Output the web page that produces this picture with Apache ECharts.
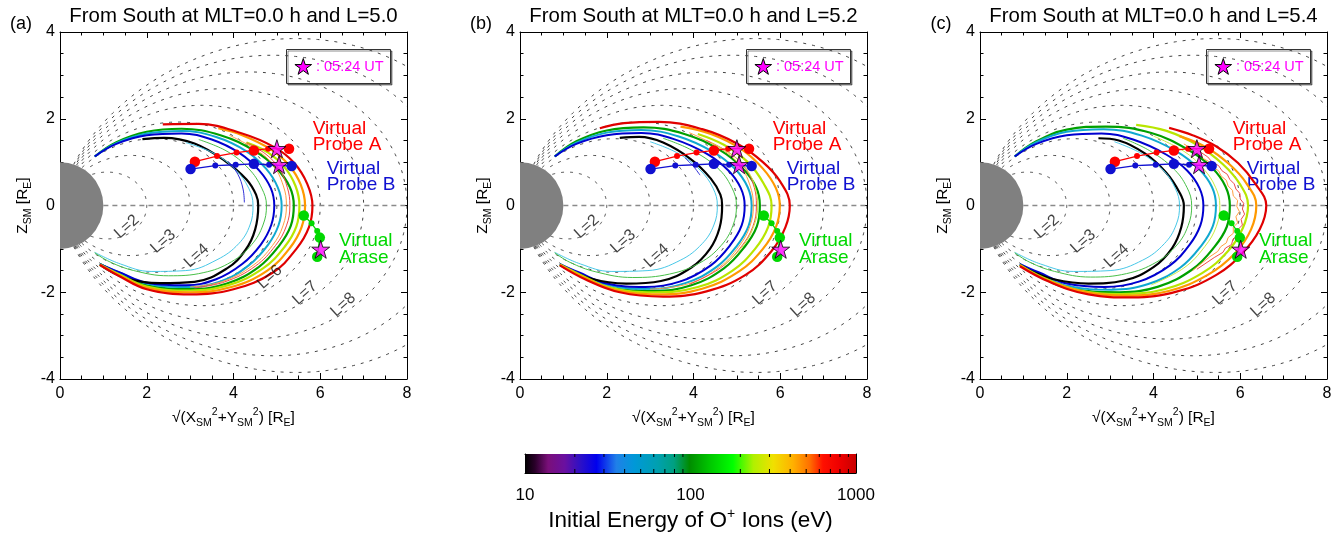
<!DOCTYPE html>
<html><head><meta charset="utf-8">
<script src="https://cdn.jsdelivr.net/npm/echarts@6/dist/echarts.min.js"></script>
<style>html,body{margin:0;padding:0;background:#fff}#c{width:1338px;height:540px}</style>
</head><body><div id="c"></div>
<script>
// ---------------- DATA ----------------
const PANEL_TAGS = ['(a)', '(b)', '(c)'];
const PANEL_TITLES = ['From South at MLT=0.0 h and L=5.0', 'From South at MLT=0.0 h and L=5.2', 'From South at MLT=0.0 h and L=5.4'];
const L_VALUES = [2, 3, 4, 5, 6, 7, 8, 9, 10];
const EQUATOR = [[1, 0], [8, 0]];
const L_LABELS_A = [[1.54, -0.49, 'L=2'], [2.38, -0.83, 'L=3'], [3.15, -1.16, 'L=4'], [4.84, -1.65, 'L=6'], [5.65, -2.02, 'L=7'], [6.53, -2.29, 'L=8']];
const L_LABELS_BC = [[1.54, -0.49, 'L=2'], [2.38, -0.83, 'L=3'], [3.15, -1.16, 'L=4'], [5.65, -2.02, 'L=7'], [6.53, -2.29, 'L=8']];
const PROBE_A = [[3.11, 1.01], [3.62, 1.14], [4.07, 1.22], [4.47, 1.27], [4.80, 1.31], [5.28, 1.31]];
const PROBE_A_BIG = [1, 0, 0, 1, 0, 1];
const PROBE_B = [[3.01, 0.84], [3.58, 0.92], [4.05, 0.94], [4.47, 0.96], [4.82, 0.94], [5.34, 0.91]];
const PROBE_B_BIG = [1, 0, 0, 1, 0, 1];
const ARASE = [[5.62, -0.23], [5.80, -0.41], [5.93, -0.59], [5.99, -0.74], [5.93, -1.18]];
const ARASE_BIG = [1, 0, 0, 1, 1];
const STARS = [[5.0, 1.31], [5.05, 0.94], [6.01, -1.01]];
const LEGEND_TEXT = ': 05:24 UT';
const PROBE_NAMES = [['Virtual', 'Probe A'], ['Virtual', 'Probe B'], ['Virtual', 'Arase']];
const CBAR_MIN = 10, CBAR_MAX = 1000;
const CBAR_MINOR = [20, 30, 40, 50, 60, 70, 80, 90, 200, 300, 400, 500, 600, 700, 800, 900];
const CBAR_STOPS = [[0, '#000000'], [0.03, '#2a002a'], [0.07, '#7a0f7a'], [0.12, '#6a10a0'], [0.17, '#2a10c8'], [0.216, '#0000ee'], [0.276, '#2080e8'], [0.33, '#0098d8'], [0.40, '#00a0b0'], [0.45, '#00a080'], [0.497, '#008c00'], [0.56, '#00c800'], [0.628, '#00ff00'], [0.69, '#b0f000'], [0.75, '#f0e000'], [0.81, '#ffb000'], [0.86, '#ff7000'], [0.90, '#ff1000'], [0.95, '#ee0000'], [1.0, '#c80000']];

// trajectories, panel (a)
const A_r = [[2.37,1.87],[3.2,1.88],[4.2,1.66],[4.95,1.34],[5.4,0.98],[5.7,0.5],[5.82,0],[5.74,-0.5],[5.45,-1.0],[4.9,-1.55],[4.0,-1.93],[3.0,-2.05],[2.0,-1.93],[1.35,-1.62],[0.92,-1.37]];
const A_o = [[3.65,1.78],[4.2,1.62],[4.85,1.3],[5.28,0.93],[5.55,0.48],[5.65,0],[5.57,-0.5],[5.3,-0.98],[4.78,-1.5],[3.95,-1.88],[3.0,-2.0],[2.0,-1.9],[1.35,-1.6],[0.92,-1.37]];
const A_yg = [[4.3,1.45],[4.8,1.22],[5.18,0.88],[5.43,0.45],[5.52,0],[5.45,-0.48],[5.18,-0.95],[4.68,-1.45],[3.9,-1.83],[3.0,-1.96],[2.0,-1.87],[1.35,-1.58],[0.92,-1.36]];
const A_g = [[0.8,1.13],[1.3,1.46],[2.0,1.7],[2.8,1.77],[3.7,1.62],[4.5,1.25],[5.0,0.85],[5.3,0.42],[5.39,0],[5.32,-0.47],[5.05,-0.93],[4.58,-1.42],[3.85,-1.8],[3.0,-1.93],[2.0,-1.84],[1.35,-1.56],[0.92,-1.35]];
const A_rt = [[4.3,1.45],[4.75,1.18],[5.05,0.85],[5.24,0.42],[5.3,0],[5.22,-0.47],[4.97,-0.92],[4.5,-1.4],[3.8,-1.76],[3.1,-1.9]];
const A_ot = [[3.9,1.62],[4.5,1.3],[4.9,0.95],[5.15,0.45],[5.22,0],[5.14,-0.47],[4.9,-0.92],[4.45,-1.38],[3.75,-1.75],[3.0,-1.88]];
const A_t = [[0.8,1.13],[1.3,1.44],[2.0,1.66],[2.8,1.72],[3.6,1.58],[4.3,1.25],[4.75,0.85],[5.02,0.42],[5.11,0],[5.04,-0.45],[4.8,-0.9],[4.35,-1.38],[3.7,-1.75],[2.9,-1.88],[2.0,-1.8],[1.35,-1.54],[0.92,-1.35]];
const A_b = [[0.8,1.13],[1.3,1.42],[2.0,1.62],[2.8,1.66],[3.5,1.52],[4.15,1.2],[4.6,0.8],[4.86,0.4],[4.94,0],[4.87,-0.45],[4.63,-0.9],[4.2,-1.35],[3.6,-1.7],[2.9,-1.84],[2.0,-1.78],[1.35,-1.53],[0.92,-1.35]];
const A_gt = [[3.2,1.52],[3.85,1.25],[4.35,0.85],[4.65,0.4],[4.76,0],[4.68,-0.45],[4.42,-0.9],[3.95,-1.3],[3.3,-1.55],[2.5,-1.62],[1.7,-1.5],[1.15,-1.3],[0.8,-1.09]];
const A_k = [[1.9,1.53],[2.4,1.56],[3.1,1.43],[3.8,1.03],[4.3,0.6],[4.52,0.25],[4.57,0],[4.5,-0.55],[4.28,-1.02],[3.85,-1.45],[3.1,-1.76],[2.3,-1.79],[1.5,-1.67],[0.92,-1.37]];
const A_ct = [[2.9,1.45],[3.55,1.2],[4.05,0.82],[4.35,0.4],[4.45,0],[4.38,-0.45],[4.12,-0.88],[3.62,-1.25],[2.9,-1.5],[2.1,-1.52],[1.4,-1.35],[0.8,-1.08]];
const A_bt = [[3.88,1.02],[4.1,0.72],[4.22,0.38],[4.25,0.07]];

// trajectories, panel (b)
const B_r = [[1.84,1.78],[2.4,1.9],[3.2,1.93],[4.2,1.76],[5.0,1.43],[5.6,1.0],[6.0,0.55],[6.22,0],[6.12,-0.5],[5.8,-1.05],[5.2,-1.6],[4.3,-1.98],[3.3,-2.1],[2.3,-2.0],[1.5,-1.7],[0.92,-1.38]];
const B_o = [[3.7,1.82],[4.4,1.65],[5.1,1.3],[5.6,0.85],[5.9,0.4],[5.99,0],[5.9,-0.5],[5.6,-1.0],[5.05,-1.52],[4.2,-1.92],[3.2,-2.05],[2.2,-1.95],[1.45,-1.65],[0.92,-1.37]];
const B_yg = [[4.1,1.65],[4.7,1.4],[5.25,1.0],[5.62,0.5],[5.8,0],[5.72,-0.5],[5.42,-1.0],[4.9,-1.5],[4.1,-1.88],[3.1,-2.0],[2.1,-1.9],[1.4,-1.6],[0.92,-1.36]];
const B_g = [[0.8,1.13],[1.3,1.48],[2.0,1.73],[2.85,1.8],[3.79,1.65],[4.62,1.27],[5.13,0.86],[5.44,0.43],[5.53,0],[5.46,-0.48],[5.18,-0.95],[4.7,-1.45],[3.95,-1.84],[3.08,-1.97],[2.0,-1.88],[1.35,-1.6],[0.92,-1.36]];
const B_rt = [[4.3,1.5],[4.85,1.2],[5.2,0.85],[5.4,0.42],[5.45,0],[5.37,-0.48],[5.1,-0.95],[4.62,-1.44],[3.9,-1.82]];
const B_ot = [[3.9,1.68],[4.6,1.33],[5.05,0.95],[5.3,0.47],[5.38,0],[5.3,-0.48],[5.05,-0.94],[4.6,-1.42],[3.9,-1.8],[3.0,-1.93]];
const B_ygt = [[4.4,1.45],[4.95,1.12],[5.3,0.72],[5.45,0.3],[5.48,0],[5.4,-0.45],[5.15,-0.92],[4.7,-1.38]];
const B_t = [[0.8,1.13],[1.3,1.45],[2.0,1.68],[2.8,1.74],[3.66,1.59],[4.46,1.23],[4.96,0.84],[5.25,0.42],[5.34,0],[5.27,-0.47],[5.0,-0.93],[4.54,-1.41],[3.81,-1.79],[2.97,-1.92],[2.0,-1.83],[1.35,-1.56],[0.92,-1.35]];
const B_b = [[0.8,1.13],[1.3,1.42],[2.0,1.62],[2.8,1.67],[3.55,1.53],[4.33,1.18],[4.81,0.8],[5.09,0.4],[5.18,0],[5.11,-0.46],[4.85,-0.91],[4.4,-1.38],[3.7,-1.75],[2.89,-1.88],[2.0,-1.8],[1.35,-1.54],[0.92,-1.35]];
const B_gt = [[3.3,1.55],[3.95,1.28],[4.55,0.87],[4.88,0.42],[4.99,0],[4.91,-0.46],[4.64,-0.92],[4.15,-1.32],[3.45,-1.58],[2.6,-1.66],[1.75,-1.53],[1.15,-1.31],[0.8,-1.09]];
const B_k = [[2.3,1.56],[2.75,1.58],[3.3,1.45],[3.95,1.06],[4.4,0.62],[4.62,0.25],[4.66,0],[4.6,-0.52],[4.38,-1.0],[3.95,-1.43],[3.25,-1.74],[2.45,-1.8],[1.65,-1.69],[0.92,-1.37]];
const B_ct = [[3.0,1.47],[3.65,1.2],[4.15,0.82],[4.45,0.4],[4.55,0],[4.47,-0.45],[4.2,-0.88],[3.7,-1.26],[2.95,-1.5],[2.1,-1.52],[1.4,-1.35],[0.8,-1.08]];
const B_bt = [[3.8,1.1],[4.0,0.9],[4.15,0.7]];

// trajectories, panel (c)
const C_r = [[4.36,1.79],[4.9,1.62],[5.45,1.36],[5.95,0.98],[6.35,0.5],[6.6,0],[6.45,-0.55],[6.05,-1.1],[5.45,-1.6],[4.55,-1.98],[3.5,-2.12],[2.5,-2.05],[1.6,-1.76],[0.92,-1.4]];
const C_o = [[4.6,1.6],[5.2,1.35],[5.75,0.95],[6.15,0.5],[6.37,0],[6.25,-0.55],[5.88,-1.1],[5.25,-1.6],[4.35,-1.97],[3.35,-2.08],[2.35,-1.98],[1.5,-1.7],[0.92,-1.38]];
const C_yg = [[3.6,1.86],[4.3,1.72],[5.0,1.4],[5.6,0.95],[6.0,0.48],[6.18,0],[6.06,-0.52],[5.72,-1.05],[5.12,-1.56],[4.25,-1.93],[3.25,-2.04],[2.25,-1.95],[1.45,-1.66],[0.92,-1.37]];
const C_rt = [[4.9,1.35],[5.1,1.22],[5.25,1.12],[5.35,1.0],[5.5,0.92],[5.58,0.8],[5.7,0.72],[5.76,0.6],[5.86,0.5],[5.9,0.38],[5.99,0.28],[6.0,0.15],[6.08,0.05],[6.05,-0.08],[6.1,-0.2],[6.02,-0.32],[6.05,-0.45],[5.95,-0.55],[5.95,-0.68],[5.83,-0.78],[5.8,-0.9],[5.66,-0.98],[5.6,-1.08],[5.4,-1.2],[5.0,-1.47]];
const C_ot = [[4.7,1.42],[4.9,1.3],[5.05,1.2],[5.15,1.08],[5.3,1.0],[5.38,0.88],[5.5,0.8],[5.56,0.68],[5.68,0.58],[5.72,0.45],[5.82,0.35],[5.84,0.22],[5.94,0.12],[5.92,-0.02],[5.98,-0.14],[5.9,-0.26],[5.94,-0.4],[5.84,-0.5],[5.84,-0.64],[5.72,-0.74],[5.68,-0.86],[5.55,-0.95],[5.48,-1.06],[5.3,-1.18],[4.9,-1.5]];
const C_g = [[0.8,1.13],[1.3,1.48],[2.0,1.75],[2.9,1.82],[3.95,1.67],[4.81,1.28],[5.35,0.87],[5.66,0.44],[5.76,0],[5.69,-0.49],[5.4,-0.96],[4.9,-1.47],[4.11,-1.87],[3.21,-2.0],[2.0,-1.9],[1.35,-1.62],[0.92,-1.37]];
const C_ygt = [[4.0,1.6],[4.7,1.25],[5.15,0.85],[5.43,0.42],[5.53,0],[5.45,-0.48],[5.18,-0.95],[4.7,-1.44],[3.95,-1.83]];
const C_t = [[0.8,1.13],[1.3,1.46],[2.0,1.7],[2.85,1.76],[3.73,1.61],[4.54,1.24],[5.05,0.84],[5.35,0.42],[5.44,0],[5.37,-0.47],[5.1,-0.93],[4.62,-1.43],[3.88,-1.81],[3.03,-1.94],[2.0,-1.85],[1.35,-1.57],[0.92,-1.35]];
const C_b = [[0.8,1.13],[1.3,1.42],[2.0,1.62],[2.8,1.66],[3.53,1.52],[4.3,1.17],[4.78,0.8],[5.06,0.4],[5.15,0],[5.08,-0.46],[4.83,-0.91],[4.38,-1.38],[3.68,-1.75],[2.87,-1.88],[2.0,-1.8],[1.35,-1.54],[0.92,-1.35]];
const C_gt = [[3.3,1.55],[3.9,1.27],[4.45,0.86],[4.77,0.42],[4.88,0],[4.8,-0.46],[4.54,-0.91],[4.06,-1.31],[3.38,-1.57],[2.55,-1.65],[1.72,-1.52],[1.15,-1.31],[0.8,-1.09]];
const C_k = [[2.73,1.55],[3.2,1.5],[3.8,1.2],[4.3,0.75],[4.6,0.3],[4.7,0],[4.64,-0.5],[4.43,-0.98],[4.0,-1.42],[3.32,-1.73],[2.5,-1.8],[1.7,-1.7],[1.2,-1.52],[0.92,-1.37]];
const C_ct = [[3.1,1.47],[3.72,1.2],[4.22,0.82],[4.5,0.4],[4.6,0],[4.52,-0.45],[4.25,-0.88],[3.75,-1.26],[3.0,-1.5],[2.15,-1.52],[1.4,-1.35],[0.8,-1.08]];

// ---------------- STYLE / LAYOUT ----------------
const FONT = '"Liberation Sans", Arial, Helvetica, sans-serif';
const TRAJ_STYLE = {
  g: ['#00a000', 2.2, 0.4], t: ['#10a8d0', 2, 0.4], b: ['#0000d0', 2, 0.4], k: ['#000000', 2.2, 0.4],
  yg: ['#b8e600', 2.2, 0.4], o: ['#ff9900', 2.2, 0.4], r: ['#e00000', 2.2, 0.4],
  ct: ['#48c8e8', 1, 0.4], gt: ['#48c048', 1, 0.4], ot: ['#ffa040', 1, 0.4], rt: ['#f04848', 1, 0.4], ygt: ['#c8ec40', 1, 0.4], bt: ['#3030d8', 1, 0.4]
};
const JAGGED = {C_rt: true, C_ot: true};
const TRAJ_ORDER = ['g', 't', 'b', 'k', 'yg', 'o', 'r', 'ct', 'gt', 'ot', 'rt', 'ygt', 'bt'];
const PANEL_TRAJ = [
  {r: A_r, o: A_o, yg: A_yg, g: A_g, rt: A_rt, ot: A_ot, t: A_t, b: A_b, gt: A_gt, k: A_k, ct: A_ct, bt: A_bt},
  {r: B_r, o: B_o, yg: B_yg, g: B_g, rt: B_rt, ot: B_ot, ygt: B_ygt, t: B_t, b: B_b, gt: B_gt, k: B_k, ct: B_ct, bt: B_bt},
  {r: C_r, o: C_o, yg: C_yg, g: C_g, rt: C_rt, ot: C_ot, ygt: C_ygt, t: C_t, b: C_b, gt: C_gt, k: C_k, ct: C_ct}
];
const PANEL_LLABELS = [L_LABELS_A, L_LABELS_BC, L_LABELS_BC];
const GRID_LEFTS = [60, 520, 980];
const GRID_TOP = 32, GRID_SIZE = 347;
const STAR_PATH = 'path://M50,0L61.2,34.5L97.6,34.5L68.2,55.9L79.4,90.5L50,69.1L20.6,90.5L31.8,55.9L2.4,34.5L38.8,34.5Z';
const STAR_UNIT = [[50,0],[61.2,34.5],[97.6,34.5],[68.2,55.9],[79.4,90.5],[50,69.1],[20.6,90.5],[31.8,55.9],[2.4,34.5],[38.8,34.5]];
const PROBE_COLORS = ['#ff0000', '#1010d0', '#00d800'];

function earthRender(params, api) {
  const c = api.coord([0, 0]);
  const r = api.size([1, 0])[0];
  return {type: 'sector', shape: {cx: c[0], cy: c[1], r0: 0, r: r, startAngle: -Math.PI / 2, endAngle: Math.PI / 2}, style: {fill: '#808080'}};
}
function dipoleRender(params, api) {
  const L = api.value(0);
  const lam0 = Math.acos(Math.sqrt(1 / L));
  const pts = [];
  const N = 240;
  for (let k = 0; k <= N; k++) {
    const lam = -lam0 + 2 * lam0 * k / N;
    const rr = L * Math.cos(lam) * Math.cos(lam);
    pts.push(api.coord([rr * Math.cos(lam), rr * Math.sin(lam)]));
  }
  return {type: 'polyline', shape: {points: pts}, style: {stroke: '#444', lineWidth: 1, lineDash: [3, 6], fill: null}};
}

const rich = {
  n: {fontSize: 15.5, lineHeight: 22, fontFamily: FONT, color: '#000'},
  s: {fontSize: 10.5, lineHeight: 10, verticalAlign: 'bottom', fontFamily: FONT, color: '#000'},
  p: {fontSize: 10.5, lineHeight: 10, verticalAlign: 'top', fontFamily: FONT, color: '#000'}
};

const grids = [], xAxes = [], yAxes = [], series = [], graphics = [];
const PANEL_PREFIX = ['A_', 'B_', 'C_'];
for (let i = 0; i < 3; i++) {
  grids.push({left: GRID_LEFTS[i], top: GRID_TOP, width: GRID_SIZE, height: GRID_SIZE});
  const common = {
    gridIndex: i, type: 'value',
    axisLine: {show: true, onZero: false, lineStyle: {color: '#000', width: 1}},
    axisTick: {show: true, inside: true, length: 6, lineStyle: {color: '#000'}},
    minorTick: {show: true, splitNumber: 4, length: 3.5, lineStyle: {color: '#000'}},
    splitLine: {show: false}, minorSplitLine: {show: false}
  };
  xAxes.push(Object.assign({}, common, {
    min: 0, max: 8, interval: 2, position: 'bottom',
    axisLabel: {fontSize: 16, margin: 7, color: '#000', fontFamily: FONT},
    name: '{n|√(X}{s|SM}{p|2}{n|+Y}{s|SM}{p|2}{n|) [R}{s|E}{n|]}',
    nameLocation: 'middle', nameGap: 22, nameTextStyle: {rich: rich}
  }));
  xAxes.push(Object.assign({}, common, {min: 0, max: 8, interval: 2, position: 'top', axisLabel: {show: false}}));
  yAxes.push(Object.assign({}, common, {
    min: -4, max: 4, interval: 2, position: 'left',
    axisLabel: {fontSize: 16, margin: 5, color: '#000', fontFamily: FONT},
    name: '{n|Z}{s|SM}{n| [R}{s|E}{n|]}', nameLocation: 'middle', nameRotate: 90, nameGap: 26,
    nameTextStyle: {rich: rich}
  }));
  yAxes.push(Object.assign({}, common, {min: -4, max: 4, interval: 2, position: 'right', axisLabel: {show: false}}));

  const ax = {xAxisIndex: i * 2, yAxisIndex: i * 2};
  series.push(Object.assign({type: 'custom', clip: true, z: 1, silent: true, data: [[0, 0]], renderItem: earthRender}, ax));
  series.push(Object.assign({type: 'custom', clip: true, z: 2, silent: true, data: L_VALUES.map(v => [v, 0]), renderItem: dipoleRender}, ax));
  series.push(Object.assign({type: 'line', z: 3, silent: true, data: EQUATOR, showSymbol: false, symbol: 'none',
    lineStyle: {color: '#8a8a8a', width: 1.5, type: [5, 4]}}, ax));
  const traj = PANEL_TRAJ[i];
  TRAJ_ORDER.forEach(k => {
    if (!traj[k]) return;
    const st = TRAJ_STYLE[k];
    const jag = JAGGED[PANEL_PREFIX[i] + k];
    series.push(Object.assign({type: 'line', z: st[1] > 1.5 ? 4 : 5, silent: true, data: traj[k], smooth: jag ? false : st[2],
      showSymbol: false, symbol: 'none', clip: true, lineStyle: {color: st[0], width: st[1]}}, ax));
  });
  [[PROBE_A, PROBE_A_BIG], [PROBE_B, PROBE_B_BIG], [ARASE, ARASE_BIG]].forEach((pr, j) => {
    const big = pr[1];
    series.push(Object.assign({type: 'line', z: 6, silent: true, data: pr[0], symbol: 'circle', showSymbol: true,
      symbolSize: (v, p) => big[p.dataIndex] ? 10.5 : 6,
      lineStyle: {color: PROBE_COLORS[j], width: 1.3}, itemStyle: {color: PROBE_COLORS[j]}}, ax));
  });
  series.push(Object.assign({type: 'scatter', z: 7, silent: true, data: STARS, symbol: STAR_PATH, symbolSize: 18,
    itemStyle: {color: '#ff00ff', borderColor: '#000', borderWidth: 1}}, ax));
  series.push(Object.assign({type: 'scatter', z: 5, silent: true, data: PANEL_LLABELS[i], symbolSize: 1,
    itemStyle: {color: 'rgba(0,0,0,0)'},
    label: {show: true, position: 'inside', rotate: 42, formatter: p => p.data[2], fontSize: 16, color: '#111', fontFamily: FONT}}, ax));

  // texts & legend box
  const dx = GRID_LEFTS[i] - 60;
  graphics.push({type: 'text', x: 233.5 + dx, y: 16.5, style: {text: PANEL_TITLES[i], font: '20.4px ' + FONT, fill: '#000', textAlign: 'center', textVerticalAlign: 'middle'}});
  graphics.push({type: 'text', x: 21 + dx, y: 24.5, style: {text: PANEL_TAGS[i], font: '18px ' + FONT, fill: '#000', textAlign: 'center', textVerticalAlign: 'middle'}});
  graphics.push({type: 'rect', shape: {x: 286.5 + dx, y: 49.5, width: 104, height: 34}, style: {fill: '#fff', stroke: '#333', lineWidth: 1, shadowColor: 'rgba(0,0,0,0.45)', shadowOffsetX: 1.5, shadowOffsetY: 1.5, shadowBlur: 0}});
  graphics.push({type: 'polygon', shape: {points: STAR_UNIT.map(p => [294.5 + dx + p[0] * 0.175, 58.5 + p[1] * 0.175])}, style: {fill: '#ff00ff', stroke: '#000', lineWidth: 1}});
  graphics.push({type: 'text', x: 316 + dx, y: 67, style: {text: LEGEND_TEXT, font: '14.5px ' + FONT, fill: '#ff00ff', textAlign: 'left', textVerticalAlign: 'middle'}});
  const labelPos = [[312.7, 129.2, 145], [326.7, 168.3, 185], [339, 241, 257.5]];
  PROBE_NAMES.forEach((nm, j) => {
    graphics.push({type: 'text', x: labelPos[j][0] + dx, y: labelPos[j][1], style: {text: nm[0], font: '19px ' + FONT, fill: PROBE_COLORS[j], textAlign: 'left', textVerticalAlign: 'middle'}});
    graphics.push({type: 'text', x: labelPos[j][0] + dx, y: labelPos[j][2], style: {text: nm[1], font: '19px ' + FONT, fill: PROBE_COLORS[j], textAlign: 'left', textVerticalAlign: 'middle'}});
  });
}

// colorbar
grids.push({left: 525, top: 454, width: 331, height: 19});
xAxes.push({gridIndex: 3, type: 'log', logBase: 10, min: CBAR_MIN, max: CBAR_MAX, position: 'bottom',
  axisLine: {show: true, onZero: false, lineStyle: {color: '#000', width: 1}},
  axisTick: {show: true, inside: true, length: 6, lineStyle: {color: '#000'}},
  splitLine: {show: false},
  axisLabel: {fontSize: 17, margin: 14, color: '#000', fontFamily: FONT, formatter: v => String(Math.round(v))},
  name: '{n|Initial Energy of O}{p|+}{n| Ions (eV)}', nameLocation: 'middle', nameGap: 34,
  nameTextStyle: {rich: {n: {fontSize: 22.5, lineHeight: 28, fontFamily: FONT, color: '#000'}, p: {fontSize: 14, lineHeight: 14, verticalAlign: 'top', fontFamily: FONT, color: '#000'}}}
});
xAxes.push({gridIndex: 3, type: 'log', logBase: 10, min: CBAR_MIN, max: CBAR_MAX, position: 'top',
  axisLine: {show: true, onZero: false, lineStyle: {color: '#000', width: 1}}, axisTick: {show: false}, axisLabel: {show: false}, splitLine: {show: false}});
yAxes.push({gridIndex: 3, type: 'value', min: 0, max: 1, position: 'left', axisLine: {show: true, onZero: false, lineStyle: {color: '#000'}}, axisTick: {show: false}, axisLabel: {show: false}, splitLine: {show: false}});
yAxes.push({gridIndex: 3, type: 'value', min: 0, max: 1, position: 'right', axisLine: {show: true, onZero: false, lineStyle: {color: '#000'}}, axisTick: {show: false}, axisLabel: {show: false}, splitLine: {show: false}});
series.push({type: 'custom', xAxisIndex: 6, yAxisIndex: 6, z: 1, silent: true, data: [[CBAR_MIN, 0]], renderItem: (p, api) => {
  const a = api.coord([CBAR_MIN, 1]), b = api.coord([CBAR_MAX, 0]);
  return {type: 'rect', shape: {x: a[0], y: a[1], width: b[0] - a[0], height: b[1] - a[1]},
    style: {fill: new echarts.graphic.LinearGradient(0, 0, 1, 0, CBAR_STOPS.map(s => ({offset: s[0], color: s[1]})))}};
}});
series.push({type: 'custom', xAxisIndex: 6, yAxisIndex: 6, z: 3, silent: true, data: CBAR_MINOR.map(v => [v, 0]), renderItem: (p, api) => {
  const b = api.coord([api.value(0), 0]), t = api.coord([api.value(0), 1]);
  return {type: 'group', children: [
    {type: 'line', shape: {x1: b[0], y1: b[1], x2: b[0], y2: b[1] - 4}, style: {stroke: '#000', lineWidth: 1}},
    {type: 'line', shape: {x1: t[0], y1: t[1], x2: t[0], y2: t[1] + 3}, style: {stroke: '#000', lineWidth: 1}}
  ]};
}});

const chart = echarts.init(document.getElementById('c'), null, {renderer: 'canvas'});
chart.setOption({
  animation: false,
  backgroundColor: '#fff',
  grid: grids, xAxis: xAxes, yAxis: yAxes, series: series, graphic: graphics
});
</script></body></html>
